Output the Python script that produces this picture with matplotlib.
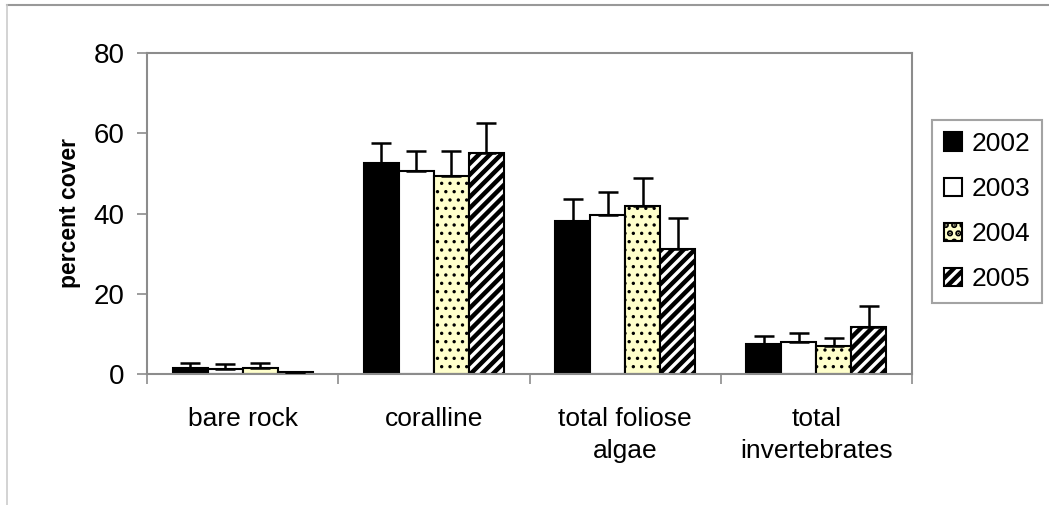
import matplotlib
matplotlib.use("Agg")
import matplotlib.pyplot as plt
from matplotlib.lines import Line2D
import numpy as np

categories = ["bare rock", "coralline", "total foliose\nalgae", "total\ninvertebrates"]
years = ["2002", "2003", "2004", "2005"]

cover_2002 = [1.6, 52.7, 38.1, 7.4]
cover_2003 = [1.2, 50.6, 39.6, 8.0]
cover_2004 = [1.5, 49.3, 41.9, 7.0]
cover_2005 = [0.5, 55.2, 31.1, 11.8]

se_2002 = [1.1, 4.8, 5.5, 2.1]
se_2003 = [1.4, 5.0, 5.7, 2.3]
se_2004 = [1.2, 6.3, 6.9, 1.9]
se_2005 = [0.0, 7.4, 7.9, 5.1]

y_ticks = [0, 20, 40, 60, 80]

plt.rcParams["font.family"] = ["Liberation Sans", "DejaVu Sans"]

fig = plt.figure(figsize=(10.49, 5.05), dpi=100)
ax = fig.add_axes([147 / 1049, 1 - 374 / 505, 765 / 1049, 321 / 505])

grey = "#8c8c8c"
styles = [
    dict(facecolor="black", hatch=None, hlw=1.0),
    dict(facecolor="white", hatch=None, hlw=1.0),
    dict(facecolor="#ffffcc", hatch="..", hlw=1.2),
    dict(facecolor="white", hatch="///", hlw=3.2),
]
values = [cover_2002, cover_2003, cover_2004, cover_2005]
errors = [se_2002, se_2003, se_2004, se_2005]

x = np.arange(len(categories))
width = 0.1833
handles = []
for i, (vals, errs, st) in enumerate(zip(values, errors, styles)):
    plt.rcParams["hatch.linewidth"] = st["hlw"]
    pos = x + (i - 1.5) * width
    bars = ax.bar(pos, vals, width, facecolor=st["facecolor"], edgecolor="black",
                  linewidth=1.5, hatch=st["hatch"], zorder=2, label=years[i])
    ax.errorbar(pos, vals, yerr=[np.zeros(len(errs)), errs], fmt="none",
                ecolor="black", elinewidth=1.8, capsize=7, capthick=1.8, zorder=3)
    handles.append(bars)

ax.set_xlim(-0.5, 3.5)
ax.set_ylim(0, 80)
ax.set_yticks(y_ticks)
ax.set_yticklabels([str(t) for t in y_ticks], fontsize=20)
ax.tick_params(axis="y", direction="out", length=7, width=1.2, color=grey, pad=9)

ax.set_xticks(x)
ax.set_xticklabels(categories, fontsize=19, linespacing=1.4)
ax.set_xticks(np.arange(-0.5, 4.0, 1.0), minor=True)
ax.tick_params(axis="x", which="major", length=0, pad=24)
ax.tick_params(axis="x", which="minor", direction="out", length=7, width=1.2, color=grey)

for sp in ax.spines.values():
    sp.set_color(grey)
    sp.set_linewidth(1.5)

ax.set_ylabel("percent cover", fontsize=16.5, fontweight="bold")
ax.yaxis.set_label_coords(-0.086, 0.5)

leg = fig.legend(handles=handles, labels=years, loc="upper left",
                 bbox_to_anchor=(932 / 1049, 1 - 120 / 505), fontsize=19,
                 frameon=True, fancybox=False, handlelength=0.7, handleheight=0.7,
                 handletextpad=0.35, labelspacing=0.8, borderpad=0.45,
                 borderaxespad=0)
leg.get_frame().set_edgecolor(grey)
leg.get_frame().set_linewidth(1.5)

# outer frame lines along the top and left edges
fig.add_artist(Line2D([7 / 1049, 1.0], [1 - 5 / 505, 1 - 5 / 505],
                      transform=fig.transFigure, color="#999999", linewidth=1.5))
fig.add_artist(Line2D([7 / 1049, 7 / 1049], [0.0, 1 - 5 / 505],
                      transform=fig.transFigure, color="#cccccc", linewidth=1.2))

fig.savefig("out.png", dpi=100)
